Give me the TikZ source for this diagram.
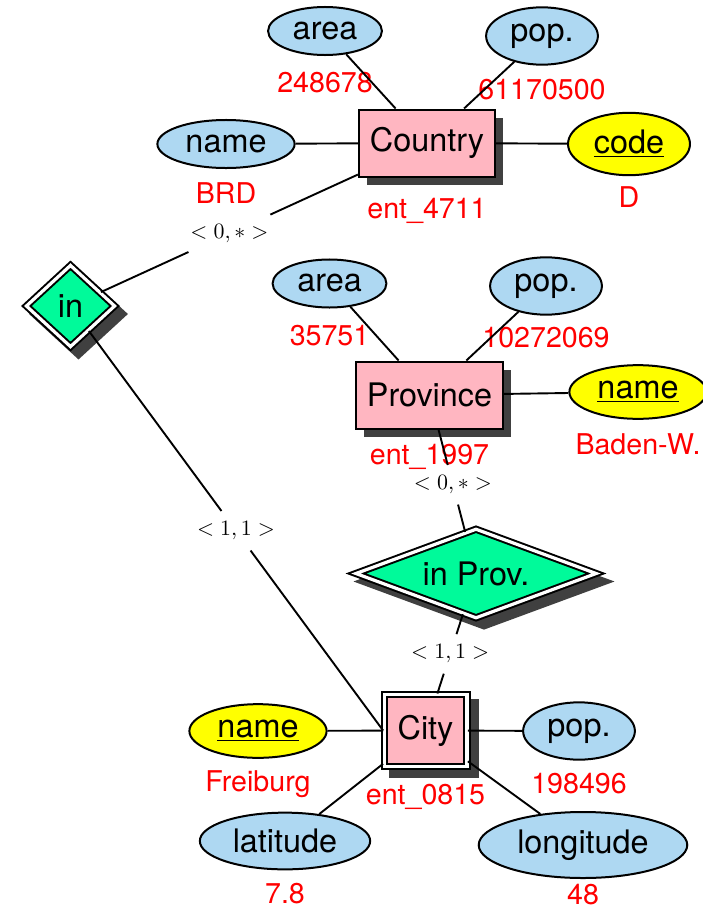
\documentclass[tikz,border=0pt]{standalone}
\usepackage[no-math]{fontspec}
\setmainfont{TeX Gyre Heros}
\usetikzlibrary{positioning,shapes.geometric,shadows}

\definecolor{entpink}{HTML}{FFB6C1}
\definecolor{attblue}{HTML}{AED8F2}
\definecolor{keyyellow}{HTML}{FFFF00}
\definecolor{relgreen}{HTML}{00FA9A}

\begin{document}
\begin{tikzpicture}[x=0.5pt,y=-0.5pt]
\tikzstyle{shade}=[drop shadow={shadow xshift=4pt, shadow yshift=-4pt, fill=black!75, opacity=1}]
\tikzstyle{dshade}=[drop shadow={shadow xshift=4pt, shadow yshift=-4pt, fill=black!75, draw=black!75, line width=3.6pt, opacity=1}]
\tikzstyle{ent}=[rectangle, draw=black, line width=1pt, fill=entpink, inner xsep=5.5pt, minimum height=33.5pt, font=\fontsize{16.2pt}{19pt}\selectfont, shade]
\tikzstyle{weak}=[rectangle, draw=black, line width=1pt, double=white, double distance=1.6pt, fill=entpink, inner xsep=6.75pt, minimum height=36pt, font=\fontsize{16.2pt}{19pt}\selectfont, dshade]
\tikzstyle{att}=[ellipse, draw=black, line width=1pt, fill=attblue, inner sep=4pt, font=\fontsize{16.2pt}{19pt}\selectfont]
\tikzstyle{key}=[att, fill=keyyellow]
\tikzstyle{rel}=[diamond, draw=black, line width=1pt, double=white, double distance=1.6pt, fill=relgreen, inner sep=1pt, font=\fontsize{16.2pt}{19pt}\selectfont, dshade]
\tikzstyle{val}=[text=red, inner sep=0pt, font=\fontsize{14.3pt}{17pt}\selectfont]
\tikzstyle{card}=[inner xsep=1pt, inner ysep=1pt, outer xsep=0pt, outer ysep=4.3pt, font=\fontsize{11pt}{13pt}\selectfont]
\tikzstyle{link}=[line width=0.95pt]
  \useasboundingbox (0,0) rectangle (702,910);
  % Country
  \node[ent] (country) at (427,143) {Country};
  \node[val, below=10pt of country] (countryv) {ent\_4711};
  \node[att] (carea) at (325,31) {area};
  \node[val, below=8pt of carea] (careav) {248678};
  \node[att] (cpop) at (542,36) {pop.};
  \node[val, below=6.5pt of cpop] (cpopv) {61170500};
  \node[att] (cname) at (226,144) {name};
  \node[val, below=6.5pt of cname] (cnamev) {BRD};
  \node[key] (ccode) at (629,144) {\underline{code}};
  \node[val, below=5pt of ccode] (ccodev) {D};
  % Province
  \node[ent] (province) at (429.5,395) {Province};
  \node[val, below=7pt of province] (provincev) {ent\_1997};
  \node[att] (parea) at (329.5,283.5) {area};
  \node[val, below=8pt of parea] (pareav) {35751};
  \node[att] (ppop) at (546,286) {pop.};
  \node[val, below=5.5pt of ppop] (ppopv) {10272069};
  \node[key] (pname) at (638,392) {\underline{name}};
  \node[val, below=6.5pt of pname] (pnamev) {Baden-W.};
  % City
  \node[weak] (city) at (425.5,730.5) {City};
  \node[val, below=8.3pt of city] (cityv) {ent\_0815};
  \node[key] (tname) at (258,731) {\underline{name}};
  \node[val, below=5.5pt of tname] (tnamev) {Freiburg};
  \node[att] (tpop) at (579,731) {pop.};
  \node[val, below=6pt of tpop] (tpopv) {198496};
  \node[att] (tlat) at (285,841) {latitude};
  \node[val, below=6pt of tlat] (tlatv) {7.8};
  \node[att] (tlon) at (583,845) {longitude};
  \node[val, below=2.5pt of tlon] (tlonv) {48};
  % relationships
  \node[rel, minimum width=44.5pt, minimum height=41pt] (in) at (70.5,306) {in};
  \node[rel, aspect=2.8, minimum width=120.5pt, minimum height=44.7pt] (inprov) at (476,573.5) {in Prov.};
  % cardinalities
  \path (in) -- node[card] (incountry) {$<0,*>$} (country);
  \path (in) -- node[card] (incity) {$<1,1>$} (city.west);
  \path (province) -- node[card, pos=0.54] (provin) {$<0,*>$} (inprov);
  \path (inprov) -- node[card] (cityin) {$<1,1>$} (city);
  \path (carea) edge [link] (country)
        (cpop) edge [link] (country)
        (cname) edge [link] (country)
        (ccode) edge [link] (country)
        (parea) edge [link] (province)
        (ppop) edge [link] (province)
        (pname) edge [link] (province)
        (tname) edge [link] (city)
        (tpop) edge [link] (city)
        (tlat) edge [link] (city)
        (tlon) edge [link] (city)
        (in) edge [link] (incountry)
        (incountry) edge [link] (country)
        (in) edge [link] (incity)
        (incity) edge [link] (city.west)
        (province) edge [link] (provin)
        (provin) edge [link] (inprov)
        (inprov) edge [link] (cityin)
        (cityin) edge [link] (city);
\end{tikzpicture}
\end{document}
